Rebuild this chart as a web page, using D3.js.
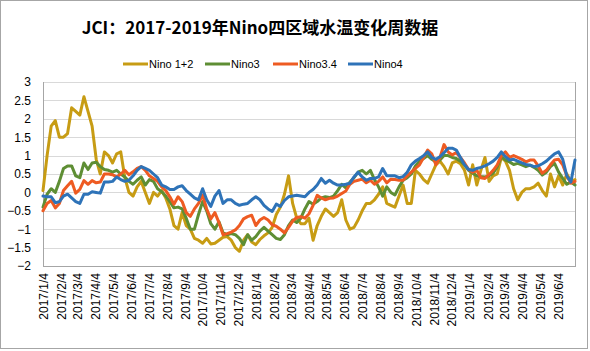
<!DOCTYPE html>
<html><head><meta charset="utf-8">
<script src="https://cdn.jsdelivr.net/npm/d3@7"></script>
<style>
body{margin:0;background:#fff;}
svg{display:block;}
</style></head>
<body>
<svg id="chart" width="590" height="351"></svg>
<script>
const title = "JCI：2017-2019年Nino四区域水温变化周数据";
const seriesNames = ["Nino 1+2", "Nino3", "Nino3.4", "Nino4"];
const seriesColors = ["#C79C14", "#5E8E34", "#EE5B22", "#2E73B8"];
const startDate = "2017/1/4";
const weekCount = 131;
const tickLabels = ["2017/1/4","2017/2/4","2017/3/4","2017/4/4","2017/5/4","2017/6/4","2017/7/4","2017/8/4","2017/9/4","2017/10/4","2017/11/4","2017/12/4","2018/1/4","2018/2/4","2018/3/4","2018/4/4","2018/5/4","2018/6/4","2018/7/4","2018/8/4","2018/9/4","2018/10/4","2018/11/4","2018/12/4","2019/1/4","2019/2/4","2019/3/4","2019/4/4","2019/5/4","2019/6/4"];
const yTicks = [-2,-1.5,-1,-0.5,0,0.5,1,1.5,2,2.5,3];

const nino12 = [0.05,1.0,1.8,1.95,1.5,1.5,1.6,2.3,2.2,2.1,2.6,2.2,1.8,0.9,0.5,1.1,1.0,0.8,1.05,1.1,
0.4,0.0,-0.1,0.15,0.3,0.0,-0.3,0.0,-0.1,0.05,-0.15,-0.45,-0.9,-1.0,-0.55,-0.9,-1.0,-1.25,-1.3,-1.38,
-1.25,-1.4,-1.38,-1.3,-1.22,-1.2,-1.3,-1.5,-1.6,-1.3,-1.15,-1.35,-1.42,-1.28,-1.18,-1.1,-0.95,-0.6,-0.4,-0.05,
0.45,-0.3,-0.7,-0.85,-0.85,-0.7,-1.3,-0.9,-0.65,-0.45,-0.55,-0.65,-0.55,-0.2,-0.75,-1.0,-0.95,-0.75,-0.5,-0.3,
-0.3,-0.2,-0.05,0.15,-0.3,-0.35,-0.4,-0.1,0.2,-0.3,-0.3,0.6,0.5,0.35,0.25,0.5,0.75,0.85,0.7,0.5,
0.8,0.85,0.78,0.6,0.2,0.75,0.2,0.6,0.95,0.3,0.45,0.5,0.95,0.85,0.6,0.1,-0.2,0.0,0.1,0.1,
0.15,0.25,0.05,-0.1,0.5,0.15,0.45,0.2,0.5,0.3,0.35];
const nino3 = [-0.4,-0.05,0.1,0.0,0.3,0.65,0.72,0.72,0.45,0.4,0.8,0.62,0.8,0.82,0.7,0.62,0.6,0.55,0.6,0.5,
0.42,0.3,0.22,0.33,0.42,0.2,0.35,0.3,0.1,0.02,-0.1,-0.25,-0.42,-0.4,-0.45,-0.7,-1.0,-1.0,-0.6,-0.25,
-0.5,-0.85,-1.0,-0.8,-1.1,-1.15,-1.12,-1.15,-1.25,-1.42,-1.15,-1.3,-1.2,-1.05,-0.95,-1.05,-1.15,-1.25,-1.28,-1.15,
-0.9,-0.75,-0.82,-0.7,-0.45,-0.25,-0.32,-0.25,-0.15,-0.12,-0.14,-0.1,0.05,0.22,0.12,0.28,0.4,0.55,0.6,0.5,
0.6,0.35,0.15,-0.1,0.15,0.0,-0.07,0.15,0.33,0.4,0.5,0.72,0.85,0.92,1.0,0.9,0.83,0.88,1.0,1.0,
0.95,0.92,0.85,0.75,0.6,0.52,0.45,0.43,0.42,0.45,0.52,0.7,0.97,0.88,0.83,0.76,0.79,0.75,0.7,0.74,
0.68,0.6,0.47,0.55,0.7,0.79,0.55,0.38,0.22,0.28,0.2];
const nino34 = [-0.5,-0.3,-0.22,-0.42,-0.3,0.05,0.18,0.3,-0.02,0.08,0.32,0.22,0.32,0.26,0.28,0.5,0.5,0.48,0.42,0.5,
0.6,0.48,0.56,0.65,0.7,0.6,0.45,0.38,0.3,0.15,0.05,-0.12,-0.32,-0.12,-0.25,-0.55,-0.65,-0.45,-0.3,-0.07,
-0.45,-0.72,-0.55,-0.82,-1.15,-1.12,-1.08,-1.02,-0.9,-0.72,-0.66,-0.62,-0.9,-0.75,-0.68,-0.75,-0.88,-0.92,-1.0,-1.1,
-0.95,-0.78,-0.68,-0.66,-0.7,-0.58,-0.35,-0.08,-0.15,-0.2,-0.16,-0.15,-0.1,-0.03,0.04,0.22,0.3,0.33,0.36,0.26,
0.33,0.22,0.3,0.42,0.26,0.36,0.35,0.33,0.33,0.45,0.55,0.65,0.75,0.95,1.15,1.05,0.75,0.95,1.3,1.1,
1.02,1.08,0.95,0.8,0.62,0.55,0.6,0.4,0.38,0.48,0.6,0.75,1.0,1.1,0.95,1.0,0.95,0.9,0.83,0.88,
0.88,0.72,0.52,0.6,0.75,0.88,0.9,0.75,0.45,0.25,0.3];
const nino4 = [-0.1,-0.12,-0.12,-0.28,-0.25,-0.1,-0.05,-0.15,-0.25,-0.3,-0.05,-0.05,0.02,0.0,-0.02,0.28,0.28,0.3,0.42,0.35,
0.3,0.33,0.45,0.6,0.7,0.65,0.6,0.5,0.4,0.2,0.15,0.08,0.08,0.15,0.18,0.05,-0.05,-0.15,-0.2,0.1,
-0.2,-0.38,-0.1,0.05,-0.3,-0.2,-0.2,-0.3,-0.35,-0.32,-0.3,-0.2,-0.12,-0.2,-0.35,-0.45,-0.52,-0.32,-0.38,-0.22,
-0.12,-0.1,-0.08,-0.1,-0.12,0.0,0.08,0.2,0.38,0.25,0.33,0.25,0.2,0.2,0.22,0.25,0.42,0.55,0.42,0.33,
0.38,0.38,0.42,0.65,0.45,0.45,0.45,0.4,0.43,0.55,0.75,0.85,0.92,1.0,1.1,0.95,0.9,0.97,1.08,1.2,
1.2,1.15,0.95,0.75,0.62,0.6,0.65,0.68,0.72,0.78,0.85,0.95,1.1,0.97,0.88,0.9,0.85,0.8,0.76,0.74,
0.7,0.72,0.78,0.85,0.95,1.05,1.1,0.9,0.45,0.28,0.88];

const seriesValues = [nino12, nino3, nino34, nino4];

const svg = d3.select("#chart");
const W = 590, H = 351;
const plot = {left: 43, right: 575, top: 82, bottom: 266};

// outer border
svg.append("rect").attr("x",0.5).attr("y",0.5).attr("width",W-3).attr("height",H-3)
  .attr("fill","#fff").attr("stroke","#A6A6A6").attr("stroke-width",1);

const parse = d3.timeParse("%Y/%m/%d");
const t0 = parse(startDate);
const dates = d3.range(weekCount).map(i => d3.timeDay.offset(t0, 7*i));

const x = d3.scaleTime().domain([dates[0], dates[dates.length-1]]).range([plot.left, plot.right]);
const y = d3.scaleLinear().domain([-2,3]).range([plot.bottom, plot.top]);

// gridlines
svg.append("g").selectAll("line").data(yTicks).join("line")
  .attr("x1",plot.left).attr("x2",plot.right)
  .attr("y1",d=>Math.round(y(d))+0.5).attr("y2",d=>Math.round(y(d))+0.5)
  .attr("stroke","#D9D9D9").attr("stroke-width",1);

// plot border (left, right, bottom)
svg.append("line").attr("x1",plot.left+0.5).attr("x2",plot.left+0.5).attr("y1",plot.top).attr("y2",plot.bottom+0.5)
  .attr("stroke","#A6A6A6");
svg.append("line").attr("x1",plot.right+0.5).attr("x2",plot.right+0.5).attr("y1",plot.top).attr("y2",plot.bottom+0.5)
  .attr("stroke","#A6A6A6");
svg.append("line").attr("x1",plot.left).attr("x2",plot.right+1).attr("y1",Math.round(y(-2))+0.5).attr("y2",Math.round(y(-2))+0.5)
  .attr("stroke","#A6A6A6");

// y axis
const yAxis = d3.axisLeft(y).tickValues(yTicks).tickSize(0).tickPadding(12)
  .tickFormat(d => d3.format("")(d));
const gy = svg.append("g").attr("transform",`translate(${plot.left},0)`).call(yAxis);
gy.select(".domain").remove();
gy.selectAll("text").attr("font-family","Liberation Sans, Arial, sans-serif").attr("font-size","12px").attr("fill","#000");

// x axis
const tickDates = tickLabels.map(parse);
const xAxis = d3.axisBottom(x).tickValues(tickDates).tickSize(0).tickFormat(d3.timeFormat("%Y/%-m/%-d"));
const gx = svg.append("g").attr("transform",`translate(0,${plot.bottom})`).call(xAxis);
gx.select(".domain").remove();
gx.selectAll("text")
  .attr("font-family","Liberation Sans, Arial, sans-serif").attr("font-size","12px").attr("fill","#000")
  .attr("transform","rotate(-90)")
  .attr("text-anchor","end")
  .attr("x",-7).attr("y",0).attr("dy","0.35em");

// lines
const line = d3.line().x((d,i)=>x(dates[i])).y(d=>y(d));
svg.append("g").selectAll("path").data(seriesValues).join("path")
  .attr("d", d=>line(d))
  .attr("fill","none")
  .attr("stroke",(d,i)=>seriesColors[i])
  .attr("stroke-width",3)
  .attr("stroke-linejoin","round")
  .attr("stroke-linecap","round");

// title
svg.append("text").attr("x",260).attr("y",34).attr("text-anchor","middle")
  .attr("font-family","Noto Sans CJK SC, sans-serif").attr("font-weight","bold")
  .attr("font-size","17px").attr("fill","#000").text(title);

// legend
const legendX = [123, 205, 273, 348];
const lg = svg.append("g").selectAll("g").data(seriesNames).join("g")
  .attr("transform",(d,i)=>`translate(${legendX[i]},64)`);
lg.append("line").attr("x1",0).attr("x2",25).attr("y1",0).attr("y2",0)
  .attr("stroke",(d,i)=>seriesColors[i]).attr("stroke-width",3);
lg.append("text").attr("x",26).attr("y",0).attr("dy","0.35em")
  .attr("font-family","Liberation Sans, Arial, sans-serif").attr("font-size","11px")
  .attr("fill","#000").text(d=>d);
</script>
</body></html>
